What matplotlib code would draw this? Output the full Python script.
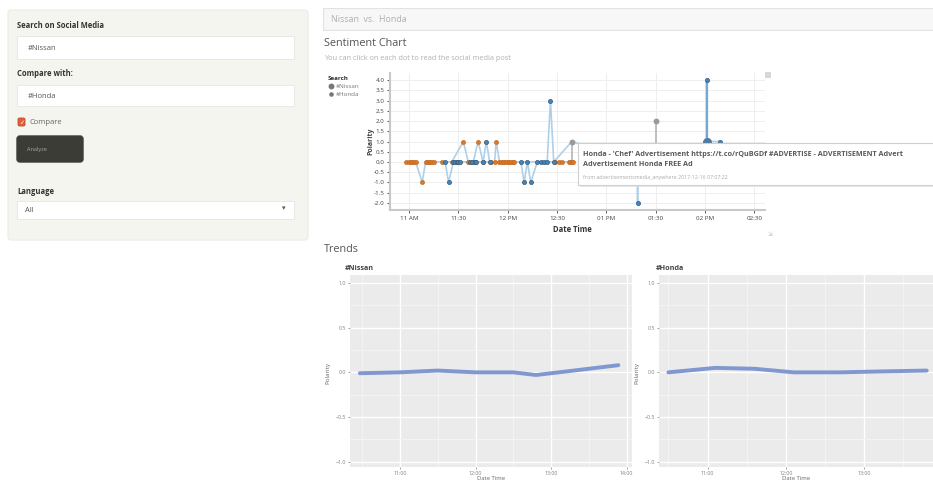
import numpy as np
import matplotlib
matplotlib.use("Agg")
import matplotlib.pyplot as plt
from matplotlib.patches import Rectangle, FancyBboxPatch

plt.rcParams['font.family'] = ['Open Sans', 'DejaVu Sans']

# sentiment chart data (minutes after 11:00 AM, polarity)
honda_min = [-2, 0, 1, 2, 3, 4, 8, 10, 11, 12, 13, 14, 15, 20, 26, 33, 36, 39, 42, 45,
             50, 52, 53, 55, 56, 57, 58, 59, 60, 61, 62, 63, 64, 89, 91, 93, 97, 98, 99, 100]
honda_pol = [0, 0, 0, 0, 0, 0, -1, 0, 0, 0, 0, 0, 0, 0, 0, 1, 0, 0, 1, 0,
             0, 0, 1, 0, 0, 0, 0, 0, 0, 0, 0, 0, 0, 0, 0, 0, 0, 0, 0, 0]
nissan_min = [22, 24, 27, 28, 29, 30, 31, 37, 38, 40, 41, 45, 47, 49, 68, 70, 72, 74, 78, 80,
              82, 84, 86, 88, 99, 139, 139, 139, 181, 181, 181, 189]
nissan_pol = [0, -1, 0, 0, 0, 0, 0, 0, 0, 0, 0, 0, 1, 0, 0, -1, 0, -1, 0, 0,
              0, 0, 3, 0, 1, 0, -2, 0, 0, 4, 1, 1]
grey_min = [99, 150]
grey_pol = [1.0, 2.0]
hover_min = [181]
hover_pol = [1.0]
chart_ticks = [0, 30, 60, 90, 120, 150, 180, 210]
chart_labels = ["11 AM", "11:30", "12 PM", "12:30", "01 PM", "01:30", "02 PM", "02:30"]

# trend data (hour, smoothed polarity)
trend_nissan_h = [10.47, 11.0, 11.5, 12.0, 12.5, 12.7, 12.8, 13.3, 13.89]
trend_nissan_p = [-0.01, 0.0, 0.02, 0.0, 0.0, -0.02, -0.03, 0.02, 0.08]
trend_honda_h = [10.5, 11.1, 11.6, 12.1, 12.7, 13.2, 13.8]
trend_honda_p = [0.0, 0.05, 0.04, 0.0, 0.0, 0.01, 0.02]
trend_nissan_ticks = [11, 12, 13, 14]
trend_nissan_labels = ["11:00", "12:00", "13:00", "14:00"]
trend_honda_ticks = [11, 12, 13]
trend_honda_labels = ["11:00", "12:00", "13:00"]

W, H = 933, 482
fig = plt.figure(figsize=(W / 100, H / 100), dpi=100)


def box(x0, y0, x1, y1):
    return [x0 / W, 1 - y1 / H, (x1 - x0) / W, (y1 - y0) / H]


bg = fig.add_axes([0, 0, 1, 1])
bg.set_xlim(0, W)
bg.set_ylim(H, 0)
bg.axis('off')

# sidebar
bg.add_patch(FancyBboxPatch((8, 10), 300, 230, boxstyle="round,pad=0,rounding_size=3",
                            fc='#f5f5f0', ec='#ebebe5', lw=0.8))
bg.text(17, 25, "Search on Social Media", fontsize=5.5, fontweight='bold', color='#333', va='center')
bg.add_patch(Rectangle((17, 36), 277, 23, fc='white', ec='#e6e6e6', lw=0.6))
bg.text(28, 48, "#Nissan", fontsize=5.5, color='#555', va='center')
bg.text(17, 74, "Compare with:", fontsize=5.5, fontweight='bold', color='#333', va='center')
bg.add_patch(Rectangle((17, 85), 277, 21, fc='white', ec='#e6e6e6', lw=0.6))
bg.text(28, 96, "#Honda", fontsize=5.5, color='#555', va='center')
bg.add_patch(FancyBboxPatch((18, 118), 7, 8, boxstyle="round,pad=0,rounding_size=1.5",
                            fc='#e0603c', ec='#c04a2a', lw=0.6))
bg.text(21.5, 122.5, "✓", fontsize=4.5, color='white', ha='center', va='center', fontweight='bold')
bg.text(30, 122, "Compare", fontsize=5.5, color='#666', va='center')
bg.add_patch(FancyBboxPatch((17, 136), 66, 26, boxstyle="round,pad=0,rounding_size=3",
                            fc='#3c3c36', ec='#3c3c36'))
bg.text(27, 149, "Analyze", fontsize=4, color='#a8a8a0', va='center')
bg.text(17, 191, "Language", fontsize=5.5, fontweight='bold', color='#333', va='center')
bg.add_patch(Rectangle((17, 201), 277, 18, fc='white', ec='#e6e6e6', lw=0.6))
bg.text(25, 210, "All", fontsize=5.5, color='#555', va='center')
bg.text(284, 209, "▾", fontsize=5, color='#555', va='center', ha='center')

# top tab bar and headers
bg.add_patch(Rectangle((323, 8), 620, 22, fc='#f7f7f7', ec='#e2e2e2', lw=0.8))
bg.text(331, 19, "Nissan  vs.  Honda", fontsize=6.4, color='#b0b0b0', va='center')
bg.text(324, 43, "Sentiment Chart", fontsize=7.8, color='#555', va='center')
bg.text(324, 59, "You can click on each dot to read the social media post",
        fontsize=5.3, color='#b0b0b0', va='center')
bg.text(324, 250, "Trends", fontsize=7.8, color='#555', va='center')

# legend of sentiment chart
bg.text(328, 78, "Search", fontsize=4.5, fontweight='bold', color='#333', va='center')
bg.plot([331], [86], 'o', ms=3.2, color='#777')
bg.text(336, 86, "#Nissan", fontsize=4.5, color='#777', va='center')
bg.plot([331], [94], 'o', ms=2.3, color='#777')
bg.text(336, 94, "#Honda", fontsize=4.5, color='#777', va='center')
bg.text(371, 141, "Polarity", fontsize=5, fontweight='bold', color='#444',
        rotation=90, ha='center', va='center')
bg.text(572, 229, "Date Time", fontsize=5.5, fontweight='bold', color='#333', ha='center', va='center')
bg.add_patch(Rectangle((765, 72), 6, 6, fc='#d8d8d8', ec='none'))
bg.text(770, 235, "⇲", fontsize=4, color='#bbb', ha='center', va='center')

# sentiment chart
ax = fig.add_axes(box(390, 73, 765, 210))
ax.set_xlim(-11.6, 216.5)
ax.set_ylim(-2.35, 4.35)
ax.set_facecolor('none')
ax.set_xticks(chart_ticks)
ax.set_xticklabels(chart_labels)
yt = np.arange(-2.0, 4.01, 0.5)
ax.set_yticks(yt)
ax.set_yticklabels([f"{v:.1f}" for v in yt])
ax.tick_params(labelsize=4.5, colors='#444', length=2, width=0.6, pad=2)
for s in ['top', 'right']:
    ax.spines[s].set_visible(False)
for s in ['left', 'bottom']:
    ax.spines[s].set_color('#c8c8c8')
    ax.spines[s].set_linewidth(1.5)
ax.grid(True, color='#eeeeee', lw=0.7)
ax.set_axisbelow(True)

line_col = '#aed0e8'
ax.plot(honda_min, honda_pol, color=line_col, lw=1.2, zorder=2)
ax.plot(nissan_min, nissan_pol, color=line_col, lw=1.2, zorder=2)
ax.vlines(grey_min, 0, grey_pol, color='#b5b5b5', lw=1.2, zorder=2)
ax.vlines(hover_min, 0, max(nissan_pol), color='#74a9d6', lw=1.6, zorder=2)
ax.plot(honda_min, honda_pol, 'o', ms=3, color='#d9772b', mec='#c06820', mew=0.4, zorder=3)
ax.plot(nissan_min, nissan_pol, 'o', ms=3, color='#3a86c6', mec='#3d5a73', mew=0.5, zorder=4)
ax.plot(grey_min, grey_pol, 'o', ms=3.2, color='#9a9a9a', zorder=5)
ax.plot(hover_min, hover_pol, 'o', ms=5.5, color='#4f7ba0', zorder=5)

# tooltip overlay
ov = fig.add_axes([0, 0, 1, 1])
ov.set_xlim(0, W)
ov.set_ylim(H, 0)
ov.axis('off')
ov.patch.set_alpha(0)
ov.add_patch(Rectangle((580, 145), 360, 42, fc='#dddddd', ec='none', alpha=0.6))
ov.add_patch(Rectangle((578, 143), 360, 42, fc='white', ec='#cfcfcf', lw=0.8))
ov.text(583, 154, "Honda - 'Chef' Advertisement https://t.co/rQuBGDf #ADVERTISE - ADVERTISEMENT Advert",
        fontsize=5.2, fontweight='bold', color='#5a5a5a', va='center')
ov.text(583, 165, "Advertisement Honda FREE Ad", fontsize=5.2, fontweight='bold', color='#5a5a5a', va='center')
ov.text(583, 177, "from advertisementsmedia_anywhere 2017-12-16 07:07:22",
        fontsize=3.8, color='#aaa', va='center')

# trends panels
panels = [
    (box(350, 275, 632, 467), "#Nissan", trend_nissan_h, trend_nissan_p, (10.34, 14.07),
     trend_nissan_ticks, trend_nissan_labels, 345, 328),
    (box(659, 275, 933, 467), "#Honda", trend_honda_h, trend_honda_p, (10.38, 13.88),
     trend_honda_ticks, trend_honda_labels, 656, 637),
]
for rect, title, hh, pp, xl, ticks, labels, tx, lx in panels:
    t = fig.add_axes(rect)
    t.set_facecolor('#ebebeb')
    t.set_xlim(*xl)
    t.set_ylim(-1.06, 1.09)
    for s in t.spines.values():
        s.set_visible(False)
    t.set_xticks(ticks)
    t.set_xticklabels(labels)
    t.set_yticks([-1.0, -0.5, 0.0, 0.5, 1.0])
    t.set_yticks([-0.75, -0.25, 0.25, 0.75], minor=True)
    t.set_xticks([10.5, 11.5, 12.5, 13.5], minor=True)
    t.tick_params(labelsize=3.8, colors='#7f7f7f', length=1.5, width=0.5, pad=1.2)
    t.tick_params(which='minor', length=0)
    t.grid(True, which='major', color='white', lw=1.0)
    t.grid(True, which='minor', color='#f5f5f5', lw=0.6)
    t.set_axisbelow(True)
    t.plot(hh, pp, color='#8097cf', lw=2.8, solid_capstyle='round')
    bg.text(tx, 268, title, fontsize=5.2, fontweight='bold', color='#444', va='center')
    bg.text(lx, 373, "Polarity", fontsize=4.5, color='#666', rotation=90, ha='center', va='center')

bg.text(491, 481.5, "Date Time", fontsize=4.2, color='#666', ha='center', va='bottom')
bg.text(796, 481.5, "Date Time", fontsize=4.2, color='#666', ha='center', va='bottom')

fig.savefig("out.png", dpi=100)
